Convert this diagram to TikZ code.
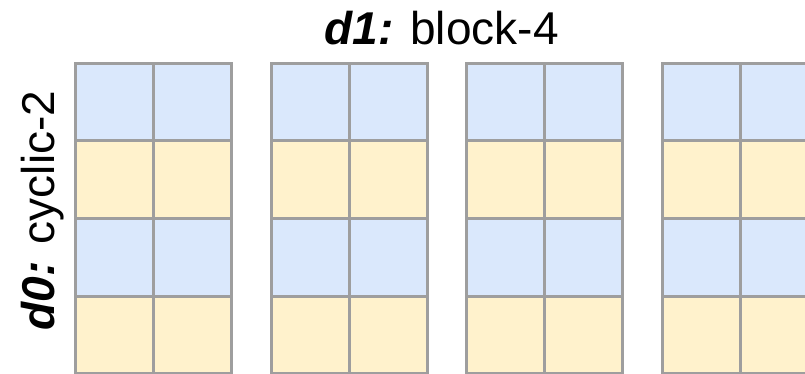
\documentclass[tikz,border=0pt]{standalone}
\usepackage{fontspec}
\setmainfont{Liberation Sans}
\definecolor{cblue}{HTML}{DAE8FC}
\definecolor{cyellow}{HTML}{FFF2CC}
\definecolor{cgrid}{HTML}{9E9E9E}
\begin{document}
\begin{tikzpicture}[x=1pt,y=-1pt,
  cell/.style={draw=cgrid, line width=3pt, minimum width=78pt, minimum height=77.5pt, inner sep=0pt, anchor=north west},
  lbl/.style={font=\fontsize{46}{50}\selectfont, inner sep=0pt, anchor=base}]
\clip (0,0) rectangle (805,374);
\fill[white] (0,0) rectangle (805,374);
\foreach \b in {0,1,2,3}{
  \foreach \r in {0,1,2,3}{
    \pgfmathtruncatemacro{\odd}{mod(\r,2)}
    \ifnum\odd=0 \def\fc{cblue}\else\def\fc{cyellow}\fi
    \foreach \c in {0,1}{
      \node[cell, fill=\fc] (cell-\b-\r-\c) at ({74+\b*195.5+\c*78},{62+\r*77.5}) {};
    }
  }
}
\node[lbl] (title) at (441.5,45) {\textbf{\textit{d1:}} block-4};
\node[lbl, rotate=90] (side) at (54,210.5) {\textbf{\textit{d0:}} cyclic-2};
\end{tikzpicture}
\end{document}
